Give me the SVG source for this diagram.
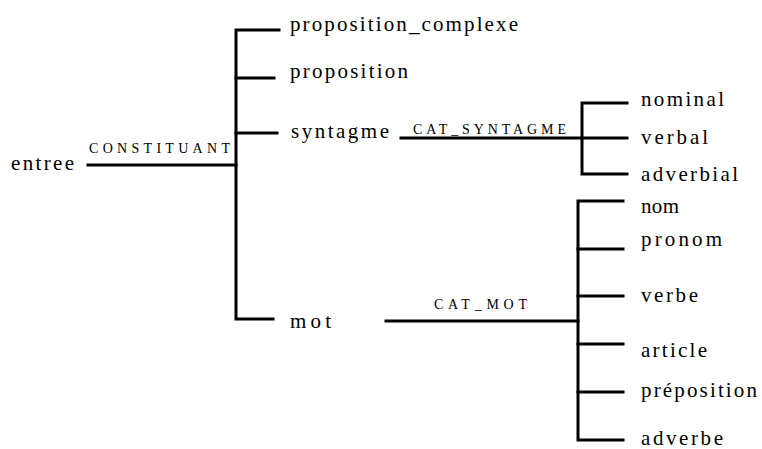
<svg xmlns="http://www.w3.org/2000/svg" width="762" height="449" viewBox="0 0 762 449">
<style>
.n{font-family:'Liberation Serif','DejaVu Serif','Times New Roman',serif;font-size:21px;fill:#000}
.s{font-family:'Liberation Serif','DejaVu Serif','Times New Roman',serif;font-size:14px;fill:#000}
.c{fill:none;stroke:#000;stroke-width:3;stroke-linecap:square;stroke-linejoin:miter}
</style>
<rect width="762" height="449" fill="#fff"/>
<g id="connectors" class="c">
<path d="M88,165 H236"/>
<path d="M279,30 H236 V319 H273"/>
<path d="M236,78 H274"/>
<path d="M236,133 H277"/>
<path d="M401,138 H582"/>
<path d="M627,103 H582 V174 H627"/>
<path d="M582,138 H627"/>
<path d="M386,321 H578"/>
<path d="M623,201 H578 V440 H623"/>
<path d="M578,249 H623"/>
<path d="M578,296 H623"/>
<path d="M578,344 H623"/>
<path d="M578,392 H623"/>
</g>
<g id="edge-labels">
<text class="s" x="89" y="153" textLength="141" lengthAdjust="spacing">CONSTITUANT</text>
<text class="s" x="413" y="134" textLength="153" lengthAdjust="spacing">CAT_SYNTAGME</text>
<text class="s" x="434" y="309" textLength="93" lengthAdjust="spacing">CAT_MOT</text>
</g>
<g id="entree"><text class="n" x="11" y="170" textLength="63" lengthAdjust="spacing">entree</text></g>
<g id="proposition_complexe"><text class="n" x="290" y="31" textLength="228" lengthAdjust="spacing">proposition_complexe</text></g>
<g id="proposition"><text class="n" x="290" y="78" textLength="118" lengthAdjust="spacing">proposition</text></g>
<g id="syntagme"><text class="n" x="291" y="138" textLength="98" lengthAdjust="spacing">syntagme</text></g>
<g id="mot"><text class="n" x="290" y="328" textLength="41" lengthAdjust="spacing">mot</text></g>
<g id="nominal"><text class="n" x="641" y="106" textLength="83" lengthAdjust="spacing">nominal</text></g>
<g id="verbal"><text class="n" x="641" y="144" textLength="67" lengthAdjust="spacing">verbal</text></g>
<g id="adverbial"><text class="n" x="641" y="181" textLength="97" lengthAdjust="spacing">adverbial</text></g>
<g id="nom"><text class="n" x="641" y="213" textLength="38" lengthAdjust="spacing">nom</text></g>
<g id="pronom"><text class="n" x="641" y="246" textLength="81" lengthAdjust="spacing">pronom</text></g>
<g id="verbe"><text class="n" x="641" y="302" textLength="57" lengthAdjust="spacing">verbe</text></g>
<g id="article"><text class="n" x="641" y="357" textLength="66" lengthAdjust="spacing">article</text></g>
<g id="preposition"><text class="n" x="641" y="397" textLength="116" lengthAdjust="spacing">préposition</text></g>
<g id="adverbe"><text class="n" x="641" y="445" textLength="82" lengthAdjust="spacing">adverbe</text></g>
</svg>
